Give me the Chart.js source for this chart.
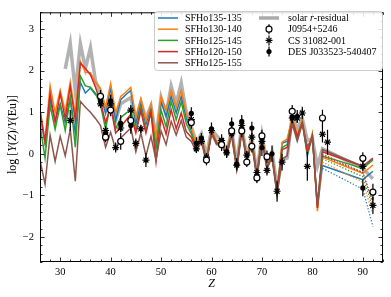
<!DOCTYPE html>
<html lang="en">
<head>
<meta charset="UTF-8">
<title>log Y(Z)/Y(Eu)</title>
<script src="https://cdn.jsdelivr.net/npm/chart.js"></script>
<style>
    body { margin: 0; background: #fff; }
    #wrap { width: 391px; height: 297px; }
</style>
</head>
<body>
<div id="wrap"><canvas id="chart" width="391" height="297"></canvas></div>
<script>
// ---- data ----
const zModel = [26, 27, 28, 29, 30, 31, 32, 33, 34, 35, 36, 37, 38, 39, 40, 41, 42, 43, 44, 45,
    46, 47, 48, 49, 50, 51, 52, 53, 54, 55, 56, 57, 58, 59, 60, 61, 62, 63, 64, 65,
    66, 67, 68, 69, 70, 71, 72, 73, 74, 75, 76, 77, 78, 79, 80, 81, 82, 90, 92];

const sfho135_135 = [0.95, 0.25, 1.30, 0.80, 1.20, 0.75, 1.35, 0.50, 1.72, 1.46, 1.58, 1.42, 1.45, 0.98, 1.60, 0.80, 1.30, 1.42, 1.52, 0.72,
    1.22, 0.70, 1.10, 0.25, 1.25, 0.90, 1.38, 0.98, 1.38, 0.85, 0.55, 0.18, 0.40, -0.16, 0.54, 0.28, 0.27, 0.02, 0.52, -0.32,
    0.62, -0.13, 0.32, -0.52, 0.42, -0.32, -0.02, -0.92, 0.25, 0.30, 0.84, 0.35, 0.78, -0.05, 0.45, -1.30, -0.28, -0.62, -0.42];
const sfho130_140 = [1.05, 0.30, 1.64, 0.98, 1.53, 1.02, 1.73, 0.95, 2.22, 1.96, 1.95, 1.72, 1.57, 1.10, 1.69, 0.98, 1.38, 1.48, 1.60, 0.88,
    1.32, 0.80, 1.20, 0.35, 1.38, 1.05, 1.52, 1.12, 1.52, 0.98, 0.62, 0.22, 0.45, -0.12, 0.58, 0.32, 0.30, 0.05, 0.55, -0.30,
    0.65, -0.10, 0.35, -0.50, 0.45, -0.30, 0.00, -0.90, 0.28, 0.36, 0.88, 0.45, 0.82, 0.05, 0.50, -1.38, -0.08, -0.47, -0.27];
const sfho125_145 = [0.70, -0.10, 1.17, 0.59, 1.17, 0.56, 1.34, 0.16, 1.87, 1.63, 1.60, 1.45, 1.17, 0.60, 1.20, 0.60, 0.87, 0.97, 1.06, 0.55,
    1.10, 0.55, 1.00, 0.10, 1.05, 0.65, 1.25, 0.82, 1.25, 0.72, 0.48, 0.15, 0.38, -0.18, 0.52, 0.27, 0.25, 0.00, 0.50, -0.33,
    0.60, -0.14, 0.30, -0.53, 0.40, -0.32, -0.03, -0.93, 0.15, 0.22, 0.82, 0.40, 0.76, 0.00, 0.45, -1.22, -0.05, -0.35, -0.15];
const sfho120_150 = [1.05, 0.28, 1.45, 0.75, 1.45, 0.85, 1.62, 0.80, 2.18, 2.05, 1.90, 1.60, 1.25, 0.75, 1.14, 0.50, 0.65, 0.80, 0.95, 0.50,
    1.03, 0.50, 1.00, -0.19, 0.87, 0.47, 1.06, 0.60, 0.98, 0.53, 0.40, 0.12, 0.35, -0.20, 0.50, 0.25, 0.23, -0.02, 0.48, -0.35,
    0.58, -0.15, 0.28, -0.55, 0.38, -0.34, -0.05, -0.95, 0.10, 0.15, 0.80, 0.42, 0.74, 0.05, 0.42, -1.30, 0.05, -0.30, -0.10];
const sfho125_155 = [-0.15, -0.73, 0.45, -0.18, 0.42, -0.05, 0.59, -0.66, 1.26, 1.12, 1.00, 0.85, 0.68, 0.16, 0.52, 0.10, 0.38, 0.50, 0.62, 0.05,
    0.50, -0.05, 0.42, -0.15, 0.55, 0.22, 0.78, 0.45, 0.80, 0.40, 0.30, 0.05, 0.30, -0.22, 0.48, 0.22, 0.20, -0.05, 0.45, -0.38,
    0.55, -0.18, 0.25, -0.58, 0.35, -0.36, -0.08, -0.98, -0.12, -0.05, 0.72, 0.30, 0.72, 0.18, 0.38, -1.25, 0.10, -0.30, -0.12];

// alternative actinide tails (dotted)
const zTail = [82, 90, 92];
const tail135_135 = [-0.35, -0.85, -1.75];
const tail130_140 = [-0.20, -0.68, -1.45];
const tail125_145 = [-0.12, -0.55, -1.30];
const tail120_150 = [-0.05, -0.45, -1.15];
const tail125_155 = [0.00, -0.45, -1.20];

const zSolar = [31, 32, 33, 34, 35, 36, 37, 38, 39, 40, 41, 42, 44, 45, 46, 47, 48, 49, 50, 51, 52, 53, 54, 55, 56,
    57, 58, 59, 60, 62, 63, 64, 65, 66, 67, 68, 69, 70, 71, 72, 73, 74, 75, 76, 77, 78, 79, 80, 81, 82, 90, 92];
const solarR = [2.04, 2.65, 1.50, 2.65, 2.05, 2.55, 1.75, 1.45, 1.05, 1.50, 0.80, 1.20, 1.35, 0.80, 1.25, 0.85, 1.15, 0.40, 1.35, 0.95, 1.63, 1.20, 1.70, 1.00, 0.65,
    0.28, 0.48, -0.05, 0.58, 0.30, 0.05, 0.55, -0.22, 0.66, -0.06, 0.38, -0.45, 0.45, -0.25, 0.05, -0.80, -0.15, -0.10, 0.90, 0.60, 0.85, 0.32, 0.35, -0.30, 0.12, -0.35, -0.60];

const zJ0954 = [38, 39, 40, 42, 44, 56, 59, 62, 64, 66, 67, 68, 69, 70, 71, 76, 82, 90, 92];
const valJ0954 = [1.38, 0.40, 1.05, 0.30, 0.80, 0.75, -0.15, 0.22, 0.55, 0.55, -0.20, 0.18, -0.58, 0.43, -0.07, 1.02, 0.86, -0.11, -0.92];
const errJ0954 = [0.15, 0.12, 0.15, 0.20, 0.25, 0.15, 0.12, 0.15, 0.15, 0.15, 0.12, 0.15, 0.12, 0.15, 0.15, 0.15, 0.20, 0.15, 0.20];

const zCS = [32, 38, 39, 40, 41, 42, 44, 45, 46, 47, 56, 57, 58, 59, 60, 62, 63, 64, 65, 66, 67, 68, 69, 70, 71, 73, 74, 76, 77, 78, 79, 82, 83, 90, 92];
const valCS = [0.80, 1.20, 0.56, 1.20, 0.15, 0.62, 1.05, 0.25, 0.60, -0.15, 0.82, 0.12, 0.30, -0.08, 0.56, 0.32, 0.02, 0.48, -0.27, 0.68,
    -0.03, 0.40, -0.45, 0.30, -0.40, -0.90, -0.20, 0.86, 0.86, 0.98, -0.30, 0.47, 0.28, -0.30, -1.24];
const errCS = [0.25, 0.10, 0.10, 0.10, 0.12, 0.10, 0.12, 0.12, 0.10, 0.17, 0.10, 0.10, 0.10, 0.10, 0.10, 0.10, 0.10, 0.10, 0.10, 0.10,
    0.10, 0.10, 0.10, 0.15, 0.12, 0.25, 0.20, 0.12, 0.12, 0.15, 0.35, 0.20, 0.30, 0.12, 0.20];

const zDES = [38, 39, 40, 42, 44, 56, 57, 58, 60, 62, 63, 64, 65, 66, 68, 70, 72, 76, 77, 90];
const valDES = [1.27, 0.50, 1.27, 0.73, 0.68, 0.97, 0.25, 0.38, 0.60, 0.32, 0.05, 0.72, -0.25, 0.78, 0.62, 0.15, 0.00, 0.88, 0.90, -0.82];
const errDES = [0.15, 0.15, 0.15, 0.20, 0.20, 0.15, 0.15, 0.12, 0.15, 0.15, 0.15, 0.15, 0.15, 0.15, 0.15, 0.20, 0.20, 0.15, 0.15, 0.20];

const xTicks = [30, 40, 50, 60, 70, 80, 90];
const yTicks = [-2, -1, 0, 1, 2, 3];

const C = { blue: '#1f77b4', orange: '#ff7f0e', green: '#2ca02c', red: '#d62728', brown: '#8c564b', gray: '#aaaaaa' };
const SERIF = "'Liberation Serif', 'DejaVu Serif', serif";

function pts(zs, vs) {
    return zs.map((z, i) => ({ x: z, y: vs[i] }));
}

function modelLine(label, vals, color, order) {
    return { label, data: pts(zModel, vals), showLine: true, borderColor: color, borderWidth: 1.5,
        pointRadius: 0, fill: false, order };
}

function tailLine(vals, color, order) {
    return { label: '', data: pts(zTail, vals), showLine: true, borderColor: color, borderWidth: 1.2,
        borderDash: [1.3, 1.8], pointRadius: 0, fill: false, order };
}

// error bars, drawn just before each observed dataset's markers
const errorBars = {
    id: 'errorBars',
    beforeDatasetDraw(chart, args) {
        const ds = chart.data.datasets[args.index];
        if (!ds.errors) return;
        const ctx = chart.ctx, ys = chart.scales.y;
        ctx.save();
        ctx.strokeStyle = '#000';
        ctx.lineWidth = 1.2;
        ctx.beginPath();
        args.meta.data.forEach((p, i) => {
            const v = ds.data[i].y, e = ds.errors[i];
            ctx.moveTo(p.x, ys.getPixelForValue(v - e));
            ctx.lineTo(p.x, ys.getPixelForValue(v + e));
        });
        ctx.stroke();
        ctx.restore();
    }
};

// inward ticks on all four sides plus the frame
const frameTicks = {
    id: 'frameTicks',
    afterDatasetsDraw(chart) {
        const { ctx, chartArea: a, scales: { x, y } } = chart;
        ctx.save();
        ctx.strokeStyle = '#000';
        ctx.lineWidth = 0.8;
        ctx.beginPath();
        for (let v = 26; v <= 94; v += 2) {
            const px = Math.round(x.getPixelForValue(v)) + 0.5;
            const len = xTicks.includes(v) ? 4.5 : 2.5;
            ctx.moveTo(px, a.bottom); ctx.lineTo(px, a.bottom - len);
            ctx.moveTo(px, a.top); ctx.lineTo(px, a.top + len);
        }
        for (let k = -13; k <= 17; k++) {
            const v = k / 5;
            const py = Math.round(y.getPixelForValue(v)) + 0.5;
            const len = (k % 5 === 0) ? 4.5 : 2.5;
            ctx.moveTo(a.left, py); ctx.lineTo(a.left + len, py);
            ctx.moveTo(a.right, py); ctx.lineTo(a.right - len, py);
        }
        ctx.stroke();
        ctx.lineWidth = 1;
        ctx.strokeRect(a.left + 0.5, a.top + 0.5, a.width - 1, a.height - 1);
        ctx.restore();
    },
    afterDraw(chart) {
        const ctx = chart.ctx;
        // y axis title with italic symbols
        const parts = [['log [', false], ['Y', true], ['(', false], ['Z', true], [')/', false], ['Y', true], ['(Eu)]', false]];
        ctx.save();
        ctx.translate(13, 134.5);
        ctx.rotate(-Math.PI / 2);
        ctx.fillStyle = '#000';
        ctx.textBaseline = 'middle';
        let w = 0;
        parts.forEach(([t, it]) => { ctx.font = (it ? 'italic ' : '') + '12px ' + SERIF; w += ctx.measureText(t).width; });
        let cx = -w / 2;
        parts.forEach(([t, it]) => {
            ctx.font = (it ? 'italic ' : '') + '12px ' + SERIF;
            ctx.fillText(t, cx, 0);
            cx += ctx.measureText(t).width;
        });
        ctx.restore();
        drawLegend(ctx);
    }
};

function marker(ctx, kind, x, y) {
    ctx.strokeStyle = '#000';
    ctx.fillStyle = '#000';
    ctx.lineWidth = 1.2;
    ctx.beginPath();
    ctx.moveTo(x, y - 5); ctx.lineTo(x, y + 5);
    ctx.stroke();
    ctx.beginPath();
    if (kind === 'open') {
        ctx.arc(x, y, 3, 0, Math.PI * 2);
        ctx.fillStyle = '#fff'; ctx.fill(); ctx.stroke();
    } else if (kind === 'dot') {
        ctx.arc(x, y, 2.6, 0, Math.PI * 2);
        ctx.fill();
    } else {
        const r = 3.5;
        ctx.moveTo(x - r, y); ctx.lineTo(x + r, y);
        ctx.moveTo(x - r * 0.7, y - r * 0.7); ctx.lineTo(x + r * 0.7, y + r * 0.7);
        ctx.moveTo(x - r * 0.7, y + r * 0.7); ctx.lineTo(x + r * 0.7, y - r * 0.7);
        ctx.stroke();
    }
}

function drawLegend(ctx) {
    ctx.save();
    ctx.beginPath();
    ctx.roundRect(154.5, 11.5, 228, 59, 3);
    ctx.fillStyle = 'rgba(255,255,255,0.85)';
    ctx.fill();
    ctx.strokeStyle = '#cccccc';
    ctx.lineWidth = 1;
    ctx.stroke();
    ctx.font = '10px ' + SERIF;
    ctx.textBaseline = 'middle';
    const rows = [18, 29.2, 40.4, 51.6, 62.8];
    const left = [['SFHo135-135', C.blue], ['SFHo130-140', C.orange], ['SFHo125-145', C.green],
        ['SFHo120-150', C.red], ['SFHo125-155', C.brown]];
    left.forEach(([t, c], i) => {
        ctx.strokeStyle = c; ctx.lineWidth = 1.5;
        ctx.beginPath(); ctx.moveTo(158, rows[i]); ctx.lineTo(178, rows[i]); ctx.stroke();
        ctx.fillStyle = '#000'; ctx.fillText(t, 185, rows[i] + 0.5);
    });
    // solar r-residual
    ctx.strokeStyle = C.gray; ctx.lineWidth = 3.5;
    ctx.beginPath(); ctx.moveTo(259, rows[0]); ctx.lineTo(279, rows[0]); ctx.stroke();
    ctx.fillStyle = '#000';
    let cx = 288;
    [['solar ', false], ['r', true], ['-residual', false]].forEach(([t, it]) => {
        ctx.font = (it ? 'italic ' : '') + '10px ' + SERIF;
        ctx.fillText(t, cx, rows[0] + 0.5);
        cx += ctx.measureText(t).width;
    });
    ctx.font = '10px ' + SERIF;
    const right = [['J0954+5246', 'open'], ['CS 31082-001', 'star'], ['DES J033523-540407', 'dot']];
    right.forEach(([t, k], i) => {
        marker(ctx, k, 269, rows[i + 1]);
        ctx.fillStyle = '#000';
        ctx.fillText(t, 288, rows[i + 1] + 0.5);
    });
    ctx.restore();
}

const datasets = [
    { label: 'solar r-residual', data: pts(zSolar, solarR), showLine: true, borderColor: 'rgba(170,170,170,0.9)',
        borderWidth: 3.5, pointRadius: 0, fill: false, order: 30 },
    modelLine('SFHo135-135', sfho135_135, C.blue, 25),
    modelLine('SFHo130-140', sfho130_140, C.orange, 24),
    modelLine('SFHo125-145', sfho125_145, C.green, 23),
    modelLine('SFHo120-150', sfho120_150, C.red, 22),
    modelLine('SFHo125-155', sfho125_155, C.brown, 21),
    tailLine(tail135_135, C.blue, 20),
    tailLine(tail130_140, C.orange, 19),
    tailLine(tail125_145, C.green, 18),
    tailLine(tail120_150, C.red, 17),
    tailLine(tail125_155, C.brown, 16),
    { label: 'DES J033523-540407', data: pts(zDES, valDES), errors: errDES, pointStyle: 'circle', pointRadius: 2.6,
        pointBackgroundColor: '#000', pointBorderColor: '#000', pointBorderWidth: 0, order: 3 },
    { label: 'CS 31082-001', data: pts(zCS, valCS), errors: errCS, pointStyle: 'star', pointRadius: 3.5,
        pointBorderColor: '#000', pointBorderWidth: 1.2, order: 2 },
    { label: 'J0954+5246', data: pts(zJ0954, valJ0954), errors: errJ0954, pointStyle: 'circle', pointRadius: 3,
        pointBackgroundColor: '#fff', pointBorderColor: '#000', pointBorderWidth: 1.2, order: 1 }
];

new Chart(document.getElementById('chart'), {
    type: 'scatter',
    data: { datasets },
    plugins: [errorBars, frameTicks],
    options: {
        responsive: false,
        animation: false,
        devicePixelRatio: 1,
        layout: { padding: { top: 7, right: 8, left: 0, bottom: 0 } },
        plugins: { legend: { display: false }, tooltip: { enabled: false } },
        scales: {
            x: {
                type: 'linear', min: 26, max: 94,
                afterBuildTicks: s => { s.ticks = xTicks.map(v => ({ value: v })); },
                afterFit: s => { s.height = 35; },
                grid: { display: false, drawTicks: false },
                border: { display: false },
                ticks: { color: '#000', padding: 4, maxRotation: 0, autoSkip: false, font: { family: SERIF, size: 10.5 } },
                title: { display: true, text: 'Z', color: '#000', padding: { top: 0, bottom: 6 },
                    font: { family: SERIF, size: 12, style: 'italic' } }
            },
            y: {
                min: -2.6, max: 3.4,
                afterBuildTicks: s => { s.ticks = yTicks.map(v => ({ value: v })); },
                afterFit: s => { s.width = 40; },
                grid: { display: false, drawTicks: false },
                border: { display: false },
                ticks: { color: '#000', padding: 6, font: { family: SERIF, size: 10.5 },
                    callback: v => String(v).replace('-', '\u2212') }
            }
        }
    }
});
</script>
</body>
</html>
